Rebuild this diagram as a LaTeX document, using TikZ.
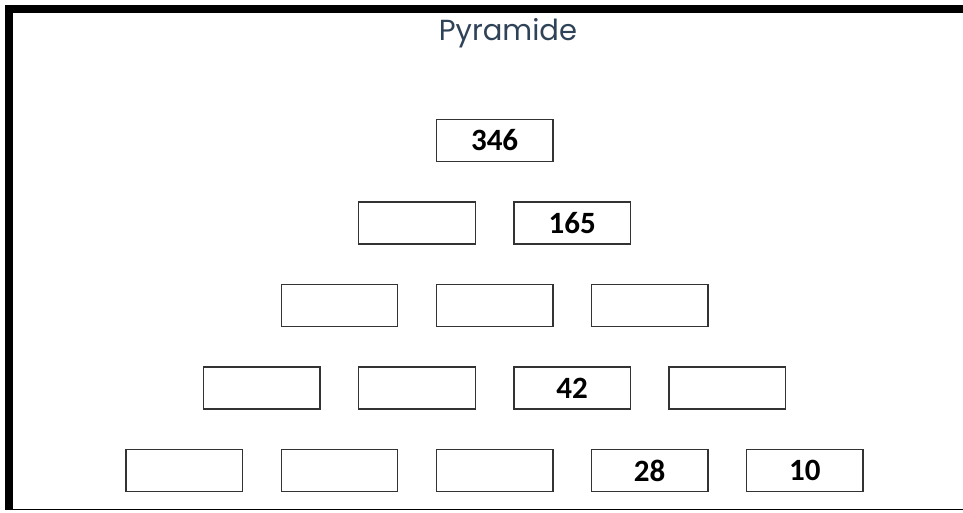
\documentclass[tikz,border=0pt]{standalone}
\usepackage{fontspec}
\setmainfont{Carlito}
\newfontfamily\titlefont{Poppins}
\definecolor{titleblue}{HTML}{2F4358}
\definecolor{boxline}{HTML}{333333}
\begin{document}
\begin{tikzpicture}[x=1pt,y=-1pt,
  cell/.style={draw=boxline,line width=1.4pt,minimum width=116.5pt,minimum height=42.3pt,inner sep=0pt,
    font=\fontsize{31}{33}\selectfont\bfseries,text=black},
  frame/.style={fill=black,draw=none}]
\useasboundingbox (0,0) rectangle (963,512);
\fill[white] (0,0) rectangle (963,512);
% frame
\fill[frame] (5,5) rectangle (963,13.3);
\fill[frame] (5,5) rectangle (12.7,510);
\draw[line width=1.2pt] (5,509.5) -- (963,509.5);
% title
\node[font=\titlefont\fontsize{29}{32}\selectfont,text=titleblue,anchor=base] (title) at (508,40) {Pyramide};
% row 1
\node[cell] (r1c1) at (494.6,140.5) {346};
% row 2
\node[cell] (r2c1) at (417.0,223.0) {};
\node[cell] (r2c2) at (572.2,223.0) {165};
% row 3
\node[cell] (r3c1) at (339.5,305.5) {};
\node[cell] (r3c2) at (494.6,305.5) {};
\node[cell] (r3c3) at (649.7,305.5) {};
% row 4
\node[cell] (r4c1) at (261.9,388.0) {};
\node[cell] (r4c2) at (417.0,388.0) {};
\node[cell] (r4c3) at (572.2,388.0) {42};
\node[cell] (r4c4) at (727.3,388.0) {};
% row 5
\node[cell] (r5c1) at (184.4,470.5) {};
\node[cell] (r5c2) at (339.5,470.5) {};
\node[cell] (r5c3) at (494.6,470.5) {};
\node[cell] (r5c4) at (649.7,470.5) {28};
\node[cell] (r5c5) at (804.8,470.5) {10};
\end{tikzpicture}
\end{document}
